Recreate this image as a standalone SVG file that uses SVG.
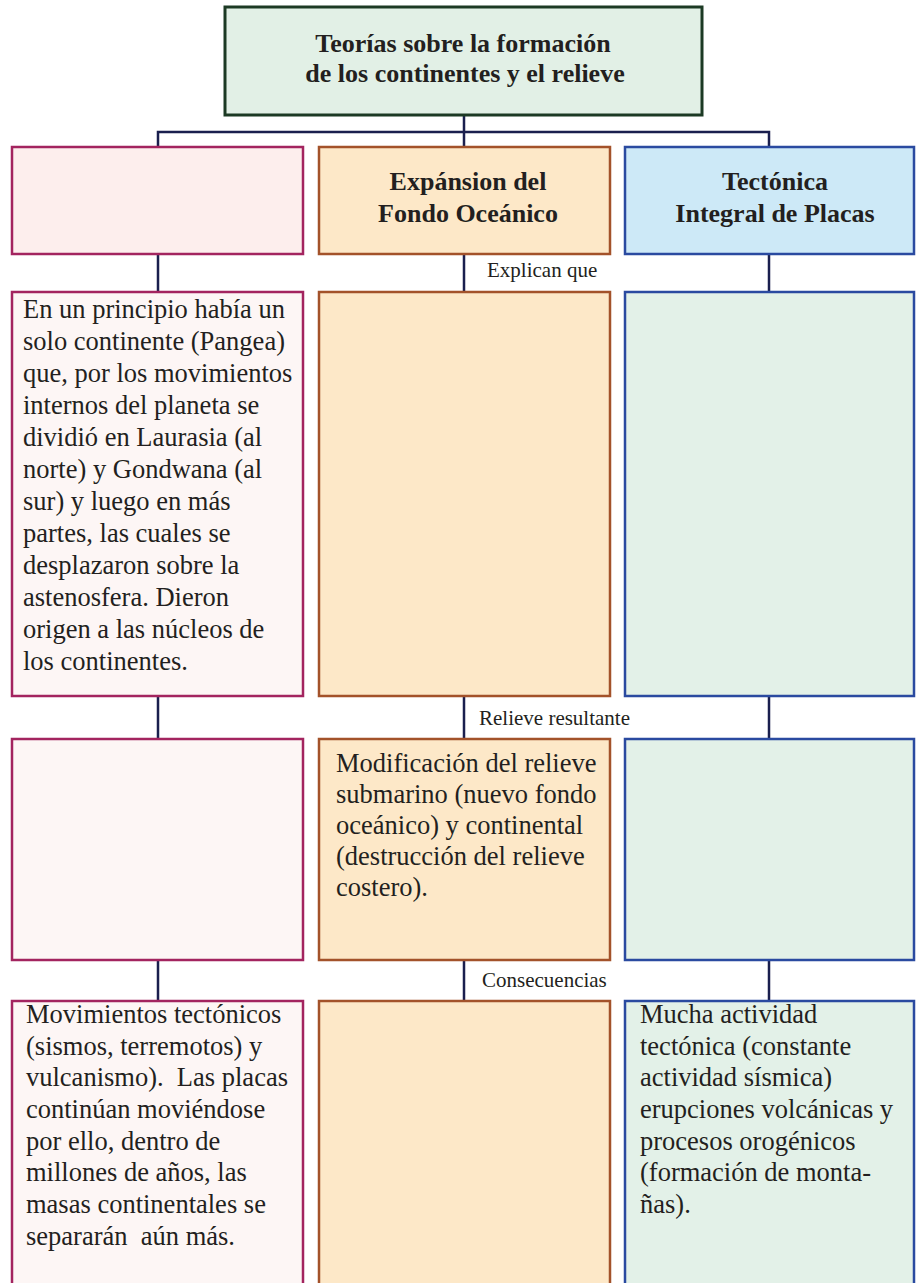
<svg xmlns="http://www.w3.org/2000/svg" width="916" height="1283" viewBox="0 0 916 1283">
<style>
text{font-family:"Liberation Serif","Times New Roman",serif;fill:#231f20}
.t{font-size:26px;font-weight:bold;text-anchor:middle}
.b{font-size:26.5px}
.l{font-size:21px}
.pk{stroke:#a3245f;stroke-width:2.5}
.or{stroke:#a3522a;stroke-width:2.5;fill:#fde8c8}
.bl{stroke:#2a4aa0;stroke-width:2.5}
.con{stroke:#1a1f4e;stroke-width:2.5;fill:none}
</style>
<rect width="916" height="1283" fill="#ffffff"/>
<g id="connectors">
<path class="con" d="M464 115V147M158 147V132H769V147"/>
<path class="con" d="M158 254V292M464 254V292M769 254V292"/>
<path class="con" d="M158 696V739M464 696V739M769 696V739"/>
<path class="con" d="M158 960V1001M464 960V1001M769 960V1001"/>
<text class="l" x="487" y="277">Explican que</text>
<text class="l" x="479" y="725">Relieve resultante</text>
<text class="l" x="482" y="987">Consecuencias</text>
</g>
<g id="title">
<rect x="225" y="7" width="477" height="108" fill="#e2f0e6" stroke="#1c3a24" stroke-width="3"/>
<text class="t" x="463" y="52">Teorías sobre la formación</text>
<text class="t" x="465" y="82">de los continentes y el relieve</text>
</g>
<g id="deriva-head">
<rect class="pk" x="12" y="147" width="291" height="107" fill="#fdeeed"/>
</g>
<g id="expansion-head">
<rect class="or" x="319" y="147" width="291" height="107"/>
<text class="t" x="468" y="190">Expánsion del</text>
<text class="t" x="468" y="222">Fondo Oceánico</text>
</g>
<g id="tectonica-head">
<rect class="bl" x="625" y="147" width="289" height="107" fill="#cde9f7"/>
<text class="t" x="775" y="190">Tectónica</text>
<text class="t" x="775" y="222">Integral de Placas</text>
</g>
<g id="deriva-explica">
<rect class="pk" x="12" y="292" width="291" height="404" fill="#fdf6f5"/>
<text class="b" x="23" y="318">En un principio había un</text>
<text class="b" x="23" y="350">solo continente (Pangea)</text>
<text class="b" x="23" y="382">que, por los movimientos</text>
<text class="b" x="23" y="414">internos del planeta se</text>
<text class="b" x="23" y="446">dividió en Laurasia (al</text>
<text class="b" x="23" y="478">norte) y Gondwana (al</text>
<text class="b" x="23" y="510">sur) y luego en más</text>
<text class="b" x="23" y="542">partes, las cuales se</text>
<text class="b" x="23" y="574">desplazaron sobre la</text>
<text class="b" x="23" y="606">astenosfera. Dieron</text>
<text class="b" x="23" y="638">origen a las núcleos de</text>
<text class="b" x="23" y="670">los continentes.</text>
</g>
<g id="expansion-explica">
<rect class="or" x="319" y="292" width="291" height="404"/>
</g>
<g id="tectonica-explica">
<rect class="bl" x="625" y="292" width="289" height="404" fill="#e3f1e8"/>
</g>
<g id="deriva-relieve">
<rect class="pk" x="12" y="739" width="291" height="221" fill="#fdf6f5"/>
</g>
<g id="expansion-relieve">
<rect class="or" x="319" y="739" width="291" height="221"/>
<text class="b" x="336" y="772">Modificación del relieve</text>
<text class="b" x="336" y="803">submarino (nuevo fondo</text>
<text class="b" x="336" y="834">oceánico) y continental</text>
<text class="b" x="336" y="865">(destrucción del relieve</text>
<text class="b" x="336" y="896">costero).</text>
</g>
<g id="tectonica-relieve">
<rect class="bl" x="625" y="739" width="289" height="221" fill="#e3f1e8"/>
</g>
<g id="deriva-consecuencias">
<rect class="pk" x="12" y="1001" width="291" height="300" fill="#fdf6f5"/>
<text class="b" x="26" y="1023">Movimientos tectónicos</text>
<text class="b" x="26" y="1055">(sismos, terremotos) y</text>
<text class="b" x="26" y="1086" xml:space="preserve">vulcanismo).  Las placas</text>
<text class="b" x="26" y="1118">continúan moviéndose</text>
<text class="b" x="26" y="1150">por ello, dentro de</text>
<text class="b" x="26" y="1181">millones de años, las</text>
<text class="b" x="26" y="1213">masas continentales se</text>
<text class="b" x="26" y="1245" xml:space="preserve">separarán  aún más.</text>
</g>
<g id="expansion-consecuencias">
<rect class="or" x="319" y="1001" width="291" height="300"/>
</g>
<g id="tectonica-consecuencias">
<rect class="bl" x="625" y="1001" width="289" height="300" fill="#e3f1e8"/>
<text class="b" x="640" y="1023">Mucha actividad</text>
<text class="b" x="640" y="1055">tectónica (constante</text>
<text class="b" x="640" y="1086">actividad sísmica)</text>
<text class="b" x="640" y="1118">erupciones volcánicas y</text>
<text class="b" x="640" y="1150">procesos orogénicos</text>
<text class="b" x="640" y="1181">(formación de monta-</text>
<text class="b" x="640" y="1213">ñas).</text>
</g>
</svg>
